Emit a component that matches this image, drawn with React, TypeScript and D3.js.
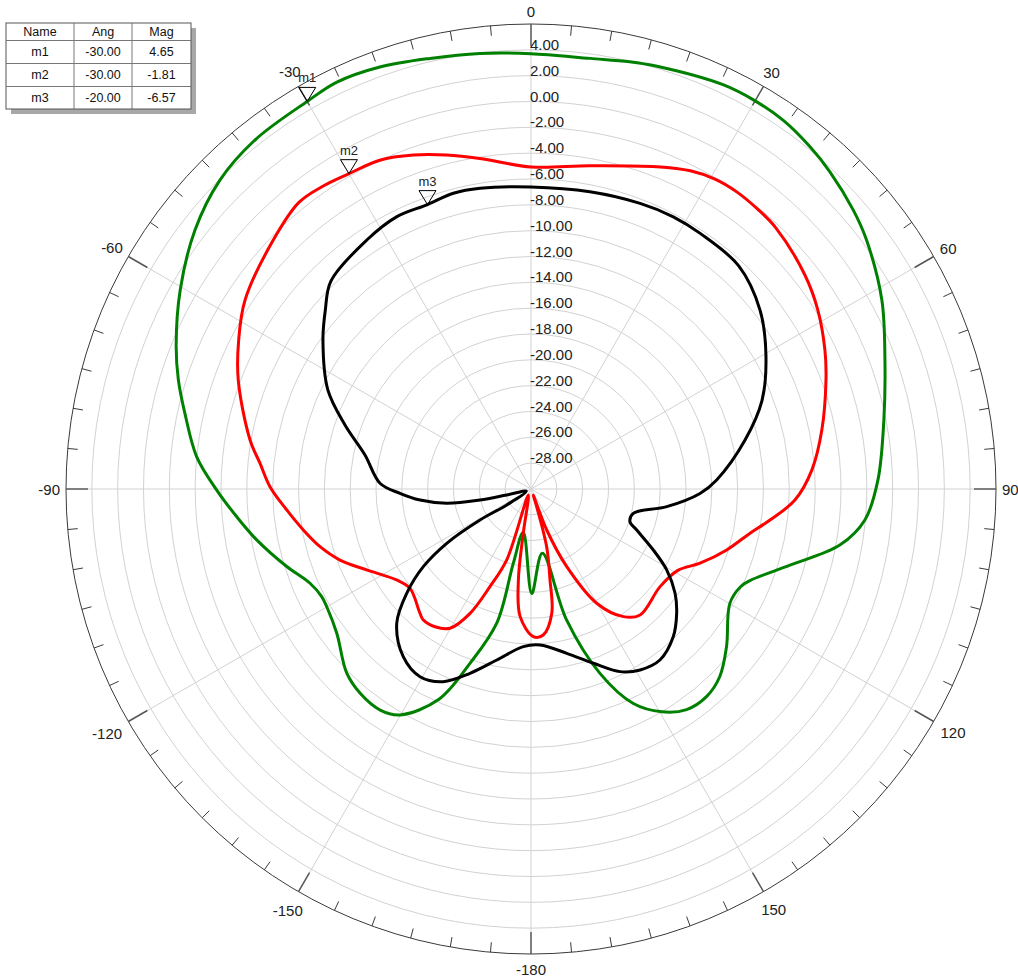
import React from 'react';
import * as d3 from 'd3';

// Radiation pattern: three traces in dB over a polar grid (-30 dB at centre, 6 dB at rim)
const W = 1018;
const H = 978;
const CX = 531;
const CY = 489;
const R = 465;

const ringValues = d3.range(-28, 5, 2); // -28.00 ... 4.00
const angleLabels = ['0', '30', '60', '90', '120', '150', '-180', '-150', '-120', '-90', '-60', '-30'];

// Trace angles (deg, clockwise from top) and magnitudes (dB), in drawing order
const greenAngles = [0, 7.8, 13, 16.6, 25.4, 30, 34.4, 39.2, 43.3, 49.1, 53.4, 61.7, 70, 78.9, 88.5, 95.3, 100.3, 106.4, 112.6, 115, 119.9, 128.9, 134.8, 139.8, 144.8, 149.6, 154.5, 159.5, 164.8, 170, 179.6, -169.8, -166.6, -165.7, -160.7, -156.3, -149.9, -145.7, -140.1, -135, -126.6, -119.9, -117.2, -113.1, -107.6, -100.5, -95.4, -90.2, -84.5, -77.7, -72.8, -67.9, -60.4, -52.4, -45.2, -38.3, -30, -25.5, -19.7, -13.2, -6.7];
const greenMags = [3.7, 3.65, 3.95, 4.15, 4.65, 4.7, 4.58, 4.18, 3.74, 3.0, 2.35, 0.85, -0.84, -2.16, -3.13, -4.04, -5.7, -9.1, -11.6, -12.1, -12.24, -10.55, -9.4, -8.95, -9.1, -10.0, -11.6, -14.76, -19.5, -24.95, -21.9, -26.6, -24.1, -19.3, -15.7, -12.2, -9.78, -9.28, -9.38, -9.83, -11.27, -11.75, -11.78, -11.4, -10.16, -8.4, -7.12, -5.67, -4.0, -2.58, -1.42, -0.35, 1.23, 2.84, 3.94, 4.45, 4.65, 4.9, 4.7, 4.24, 3.95];

const redAngles = [0, 10.3, 21.3, 26.6, 30.7, 34.7, 39, 43.1, 52, 58, 64.7, 69.7, 78.5, 86.1, 92.4, 97.4, 101.4, 107.3, 113.7, 119, 127.1, 139.1, 144.1, 150.1, 155.3, 159, 160, 162.2, 164.8, 168.2, 170.5, 175.2, 179.1, -175.1, -172.1, -170.1, -155.8, -161.1, -157.2, -153.9, -149.8, -145.1, -140.6, -138.2, -129.4, -124.1, -116.2, -110.4, -105.3, -100.2, -94.9, -89.5, -84.6, -80.1, -69.6, -63, -56.5, -46, -39, -34.6, -30, -24.7, -19.4, -14.2, -8.8];
const redMags = [-5.07, -4.56, -3.22, -2.45, -2.1, -2.02, -2.12, -2.28, -3.09, -3.82, -4.83, -5.65, -7.02, -8.2, -9.55, -11.34, -12.7, -14.13, -15.71, -17.0, -17.47, -17.1, -17.8, -19.8, -23.4, -26.6, -29.5, -28.6, -25.4, -22.8, -20.25, -18.66, -18.57, -20.1, -22.9, -26.5, -29.5, -24.2, -21.8, -19.28, -17.53, -17.0, -16.87, -17.1, -17.88, -17.44, -15.82, -14.22, -13.07, -12.09, -11.02, -9.79, -8.93, -7.92, -5.82, -4.6, -3.46, -2.26, -1.45, -1.55, -1.81, -1.98, -2.59, -3.33, -4.1];

const blackAngles = [0, 11.2, 20.9, 27.6, 33.5, 43, 52, 60.3, 69, 77.1, 87.2, 91.5, 97.4, 103.4, 108.3, 111.2, 116.5, 120.8, 125.9, 130.5, 136.1, 143, 148.9, 154, 160.3, 167.7, 176.7, -177.2, -168.7, -161.7, -155.5, -149.4, -142.7, -135, -130, -125.8, -122.8, -121.3, -123.4, -115, -103.9, -102.2, -99.6, -95.7, -91.9, -87.8, -78.4, -71, -64, -54.4, -49, -43.9, -33.4, -26.3, -20, -14.7, -9.6];
const blackMags = [-6.62, -6.54, -6.33, -6.22, -6.27, -6.4, -7.5, -9.06, -10.84, -13.0, -15.61, -16.91, -19.4, -21.86, -21.93, -21.22, -19.42, -17.77, -16.23, -15.17, -14.12, -13.42, -13.64, -14.27, -15.67, -16.98, -17.9, -17.78, -16.5, -14.97, -13.61, -13.12, -13.68, -15.3, -17.44, -19.72, -22.24, -25.38, -27.75, -29.6, -28.06, -25.96, -23.38, -21.37, -19.85, -18.3, -16.88, -14.77, -12.5, -10.19, -8.9, -7.66, -6.91, -6.5, -6.57, -6.33, -6.39];

// Marker table
const markerNames = ['m1', 'm2', 'm3'];
const markerAngles = [-30, -30, -20];
const markerMags = [4.65, -1.81, -6.57];
const markerTrace = ['green', 'red', 'black'];

const FONT = '"Liberation Sans", Arial, sans-serif';

const rScale = d3.scaleLinear().domain([-30, 6]).range([0, R]).clamp(true);
const toRad = (deg: number) => (deg * Math.PI) / 180;

const radialLine = d3
  .lineRadial<[number, number]>()
  .angle((d) => toRad(d[0]))
  .radius((d) => rScale(d[1]))
  .curve(d3.curveCatmullRomClosed.alpha(0.5));

const traces = [
  { color: '#008000', angles: greenAngles, mags: greenMags },
  { color: '#ff0000', angles: redAngles, mags: redMags },
  { color: '#000000', angles: blackAngles, mags: blackMags },
];

const polar = (deg: number, r: number) => ({
  x: CX + r * Math.sin(toRad(deg)),
  y: CY - r * Math.cos(toRad(deg)),
});

export default function App() {
  const tickAngles = d3.range(0, 360, 5);
  const spokeAngles = d3.range(0, 360, 30);

  const colX = [6, 74, 132, 191];
  const rowY = [23, 40.5, 63.5, 86.5, 109];
  const header = ['Name', 'Ang', 'Mag'];

  return (
    <svg
      width={W}
      height={H}
      viewBox={`0 0 ${W} ${H}`}
      style={{ position: 'absolute', left: 0, top: 0, display: 'block', background: '#fff' }}
      fontFamily={FONT}
    >
      <rect x={0} y={0} width={W} height={H} fill="#fff" />

      {/* rings */}
      {ringValues.map((v) => (
        <circle key={v} cx={CX} cy={CY} r={rScale(v)} fill="none" stroke="#d2d2d2" strokeWidth={1} />
      ))}

      {/* spokes */}
      {spokeAngles.map((a) => {
        const p = polar(a, R - 22);
        return <line key={a} x1={CX} y1={CY} x2={p.x} y2={p.y} stroke="#d2d2d2" strokeWidth={1} />;
      })}

      {/* rim and ticks */}
      <circle cx={CX} cy={CY} r={R} fill="none" stroke="#3a3a3a" strokeWidth={1} />
      {tickAngles.map((a) => {
        const major = a % 30 === 0;
        const p1 = polar(a, R);
        const p2 = polar(a, R - (major ? 22 : 10));
        return (
          <line
            key={a}
            x1={p1.x}
            y1={p1.y}
            x2={p2.x}
            y2={p2.y}
            stroke={major ? '#555' : '#3a3a3a'}
            strokeWidth={major ? 1.5 : 1}
          />
        );
      })}

      {/* angle labels */}
      {spokeAngles.map((a, i) => {
        const label = angleLabels[i];
        const w = label.replace('-', '').length * 8.3 + (label.startsWith('-') ? 5 : 0);
        const h = 14;
        const s = Math.abs(Math.sin(toRad(a)));
        const c = Math.abs(Math.cos(toRad(a)));
        const rr = R + 6 + (s * w) / 2 + (c * h) / 2 + (a > 90 && a < 270 ? 2 : 0);
        const p = polar(a, rr);
        return (
          <text key={a} x={p.x} y={p.y} fontSize={15} fill="#222" textAnchor="middle" dominantBaseline="central">
            {label}
          </text>
        );
      })}

      {/* traces */}
      <g transform={`translate(${CX},${CY})`}>
        {traces.map((t) => (
          <path
            key={t.color}
            d={radialLine(t.angles.map((a, i) => [a, t.mags[i]] as [number, number])) || ''}
            fill="none"
            stroke={t.color}
            strokeWidth={3}
            strokeLinejoin="round"
          />
        ))}
      </g>

      {/* radial labels */}
      {ringValues.map((v) => (
        <text key={v} x={CX - 1} y={CY - rScale(v)} fontSize={15} fill="#222" textAnchor="start">
          {v.toFixed(2)}
        </text>
      ))}

      {/* markers */}
      {markerNames.map((name, i) => {
        const p = polar(markerAngles[i], rScale(markerMags[i]));
        const pts = `${p.x - 8.5},${p.y - 14} ${p.x + 8.5},${p.y - 14} ${p.x},${p.y}`;
        return (
          <g key={name} data-trace={markerTrace[i]}>
            <polygon points={pts} fill="none" stroke="#000" strokeWidth={1} />
            <text x={p.x} y={p.y - 19} fontSize={13} fill="#222" textAnchor="middle">
              {name}
            </text>
          </g>
        );
      })}

      {/* marker table */}
      <g>
        <rect x={colX[0] + 5} y={rowY[0] + 5} width={colX[3] - colX[0]} height={rowY[4] - rowY[0]} fill="#a8a8a8" />
        <rect x={colX[0]} y={rowY[0]} width={colX[3] - colX[0]} height={rowY[4] - rowY[0]} fill="#fff" stroke="#555" />
        {rowY.slice(1, 4).map((y) => (
          <line key={y} x1={colX[0]} x2={colX[3]} y1={y} y2={y} stroke="#777" />
        ))}
        {colX.slice(1, 3).map((x) => (
          <line key={x} x1={x} x2={x} y1={rowY[0]} y2={rowY[4]} stroke="#777" />
        ))}
        {header.map((h, j) => (
          <text
            key={h}
            x={(colX[j] + colX[j + 1]) / 2}
            y={(rowY[0] + rowY[1]) / 2}
            fontSize={12.5}
            fill="#111"
            textAnchor="middle"
            dominantBaseline="central"
          >
            {h}
          </text>
        ))}
        {markerNames.map((name, i) => {
          const cells = [name, markerAngles[i].toFixed(2), markerMags[i].toFixed(2)];
          return cells.map((c, j) => (
            <text
              key={`${name}-${j}`}
              x={(colX[j] + colX[j + 1]) / 2}
              y={(rowY[i + 1] + rowY[i + 2]) / 2}
              fontSize={12.5}
              fill="#111"
              textAnchor="middle"
              dominantBaseline="central"
            >
              {c}
            </text>
          ));
        })}
      </g>
    </svg>
  );
}
